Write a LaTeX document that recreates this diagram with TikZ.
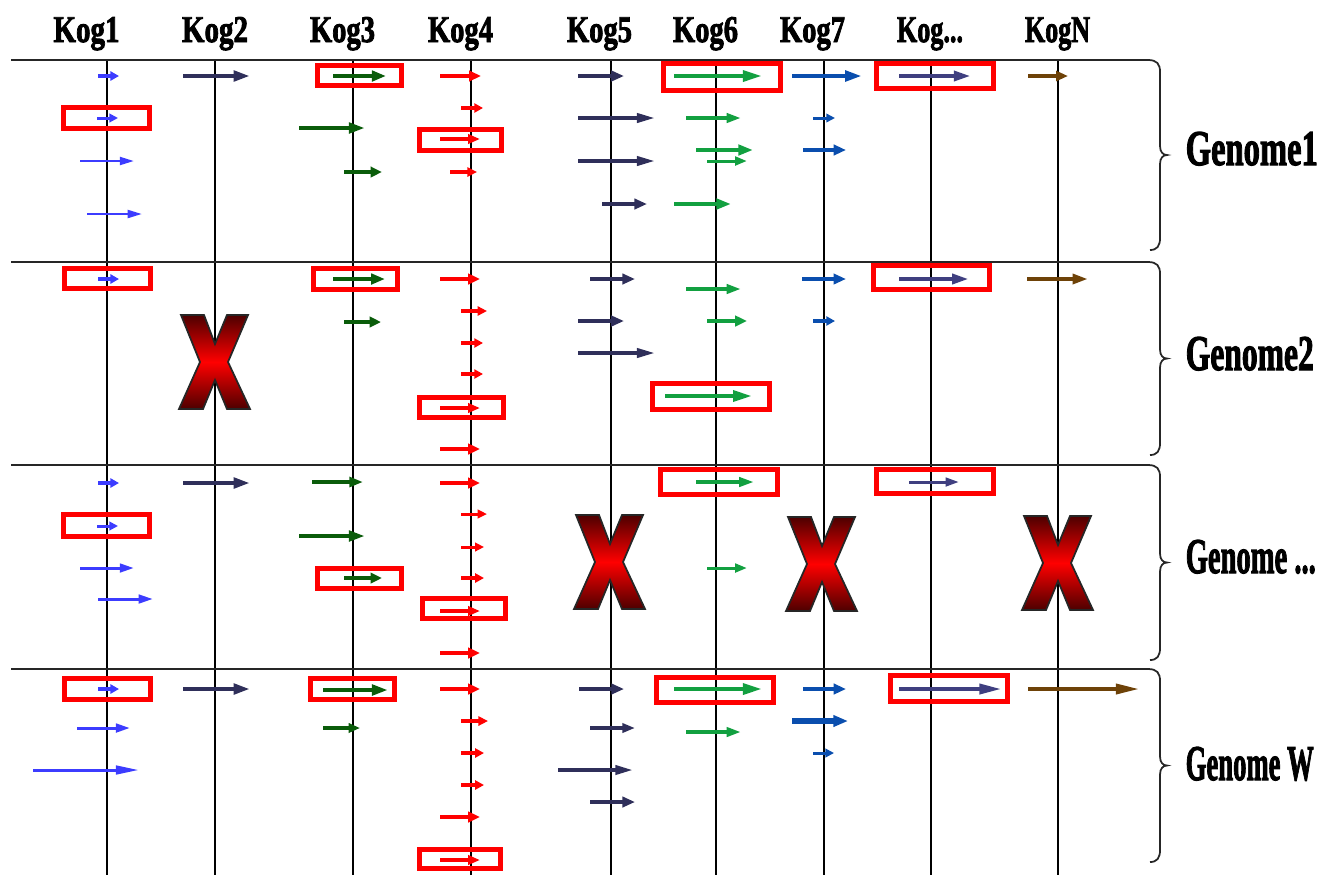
\documentclass[tikz,border=0pt]{standalone}
\usepackage{fontspec}
\setmainfont{Liberation Serif}[BoldFeatures={FakeBold=2.5}]
\usepackage{graphicx}
\usetikzlibrary{arrows.meta}
\definecolor{kogblue}{HTML}{3C3CFF}
\definecolor{kognavy}{HTML}{2F2F5A}
\definecolor{kogdkgreen}{HTML}{0A5C0A}
\definecolor{kogred}{HTML}{FF0000}
\definecolor{koggreen}{HTML}{12A040}
\definecolor{kogmidblue}{HTML}{0A4EAE}
\definecolor{kogslate}{HTML}{3F3F80}
\definecolor{kogbrown}{HTML}{6E4208}
\definecolor{hitred}{HTML}{FF0000}
\definecolor{xdark}{HTML}{4D0000}
\newcommand{\fitw}[2]{\resizebox{#1}{\height}{#2}}

\begin{document}
\begin{tikzpicture}[x=0.01cm,y=-0.01cm,>=Triangle]
\tikzset{
koglab/.style={font=\bfseries\fontsize{10.75}{12}\selectfont,anchor=base,inner sep=0pt},
genlab/.style={font=\bfseries\fontsize{14.2}{16}\selectfont,anchor=base west,inner sep=0pt},
axis/.style={line width=0.45pt,color=black},
sep/.style={line width=0.5pt,color=black!85},
hit/.style={draw=hitred,line width=1.42pt},
cross/.style={draw=black!85,line width=0.5pt,top color=xdark,bottom color=xdark,middle color=kogred}}

\useasboundingbox (0,0) rectangle (1334,875);

% column heads
\node[koglab] (kog1) at (86.5,42) {\fitw{6.6mm}{Kog1}};
\node[koglab] (kog2) at (215,42) {\fitw{6.6mm}{Kog2}};
\node[koglab] (kog3) at (342.5,42) {\fitw{6.5mm}{Kog3}};
\node[koglab] (kog4) at (460.5,42) {\fitw{6.5mm}{Kog4}};
\node[koglab] (kog5) at (599.5,42) {\fitw{6.5mm}{Kog5}};
\node[koglab] (kog6) at (705.5,42) {\fitw{6.5mm}{Kog6}};
\node[koglab] (kog7) at (812.5,42) {\fitw{6.5mm}{Kog7}};
\node[koglab] (kogdots) at (930,42) {\fitw{6.6mm}{Kog...}};
\node[koglab] (kogn) at (1057.5,42) {\fitw{6.5mm}{KogN}};

% genome labels
\node[genlab] (gen1) at (1185,165) {\fitw{13.2mm}{Genome1}};
\node[genlab] (gen2) at (1185,370) {\fitw{12.8mm}{Genome2}};
\node[genlab] (gendots) at (1185,573) {\fitw{13mm}{Genome ...}};
\node[genlab] (genw) at (1185,780) {\fitw{12.8mm}{Genome W}};

\foreach \x in {107,215,353,471,611,716,824,931,1058}
  \draw[axis] (\x,60) -- (\x,875);

% separators running into the braces
\foreach \ya/\yb in {60/250,262/455,465/660,669/862}{
  \pgfmathsetmacro\ym{(\ya+\yb)/2}
  \draw[sep] (11,\ya) -- (1148,\ya) .. controls (1157,\ya) and (1160,\ya+4) .. (1160,\ya+12)
    -- (1160,\ym-9) .. controls (1160,\ym-3) and (1163,\ym) .. (1167,\ym)
    .. controls (1163,\ym) and (1160,\ym+3) .. (1160,\ym+9)
    -- (1160,\yb-12) .. controls (1160,\yb-4) and (1157,\yb) .. (1150,\yb);
}

% genes per column: colour / {start/end/y/width}, all in px
\foreach \c/\genelist in {
  kogblue/{98/119/76/3, 97/118/118/2.5, 80/134/161/2, 87/142/214/2, 98/119/279/3, 98/119/483/3, 97/118/526/2.5, 80/134/568/2.5, 98/153/599/2.5, 98/119/689/3, 77/130/728/2.5, 33/139/770/2.5},
  kognavy/{183/250/76/4, 183/250/483/4, 183/250/689/4},
  kogdkgreen/{333/386/76/4, 299/365/128/4, 344/382/172/4, 333/385/279/4, 344/381/322/4, 312/363/482/3.5, 299/365/536/4, 344/382/578/4, 323/388/690/4, 323/360/728/3},
  kogred/{440/481/76/4, 461/483/108/3, 440/480/139/3, 450/477/172/3, 440/480/279/4, 461/487/311/3, 461/483/343/3, 461/483/374/3, 440/480/408/3, 440/480/449/4, 440/480/483/4, 461/487/514/2.5, 461/484/547/2.5, 461/484/578/3, 440/480/611/3, 440/480/653/4, 440/480/689/4, 461/488/721/3, 461/484/753/3, 461/484/785/3, 440/480/817/4, 440/480/860/3},
  kognavy/{578/624/76/4, 578/655/118/3, 578/655/161/3, 602/647/204/4, 590/635/279/4, 578/624/321/4, 578/655/353/3, 579/624/689/4, 590/635/728/3, 558/633/770/3, 590/635/802/4},
  koggreen/{674/763/76/4, 686/741/118/3, 696/753/150/4, 707/747/161/2.5, 674/731/204/4, 686/741/289/3, 707/747/321/4, 665/753/396/4, 696/754/482/3, 707/747/568/2.5, 674/763/689/4, 686/741/732/3},
  kogmidblue/{792/862/76/4, 813/835/118/2.5, 803/846/150/4, 802/846/279/4, 813/835/321/3, 803/846/689/4, 792/848/721/4.5, 813/834/753/2.5},
  kogslate/{899/971/76/3.5, 899/969/279/3.5, 909/959/482/2.5, 899/1002/689/3.5},
  kogbrown/{1028/1068/76/3.5, 1027/1088/279/3.5, 1028/1140/689/3.5}}{
  \foreach \xa/\xb/\yy/\lw in \genelist {
    \pgfmathsetmacro\lwpt{0.34*\lw}
    \pgfmathsetmacro\hlpt{0.2845*min(25,5+0.17*(\xb-\xa))}
    \pgfmathsetmacro\hwpt{0.2845*(1.2*\lw+5.5)}
    \draw[draw=\c,line width=\lwpt pt,-{Triangle[length=\hlpt pt,width=\hwpt pt]}] (\xa,\yy) -- (\xb,\yy);
  }
}

% conserved hits
\foreach \xa/\ya/\xb/\yb in {
  63.5/107.5/149.5/128.5, 317.5/65.5/401.5/85.5, 419.5/129.5/501.5/150.5, 663.5/63.5/780.5/90.5, 876.5/63.5/993.5/88.5,
  64.5/268.5/150.5/288.5, 313.5/268.5/397.5/289.5, 419.5/397.5/503.5/417.5, 652.5/383.5/769.5/409.5, 873.5/265.5/989.5/289.5,
  63.5/514.5/149.5/536.5, 317.5/568.5/401.5/588.5, 422.5/598.5/505.5/618.5, 660.5/469.5/777.5/494.5, 876.5/469.5/993.5/493.5,
  64.5/678.5/150.5/699.5, 310.5/678.5/394.5/699.5, 419.5/849.5/500.5/868.5, 656.5/677.5/773.5/702.5, 890.5/675.5/1007.5/701.5}
  \draw[hit] (\xa,\ya) rectangle (\xb,\yb);

% missing Kogs
\foreach \cx/\cy in {215/362, 610/562, 822/564, 1058/563}
  \draw[cross,shift={(\cx,\cy)}] (-34,-47) -- (-11,-47) -- (0,-18) -- (12,-47) -- (33,-47) -- (13,0)
    -- (35,47) -- (12,47) -- (0,18) -- (-12,47) -- (-36,47) -- (-15,0) -- cycle;
\end{tikzpicture}
\end{document}
